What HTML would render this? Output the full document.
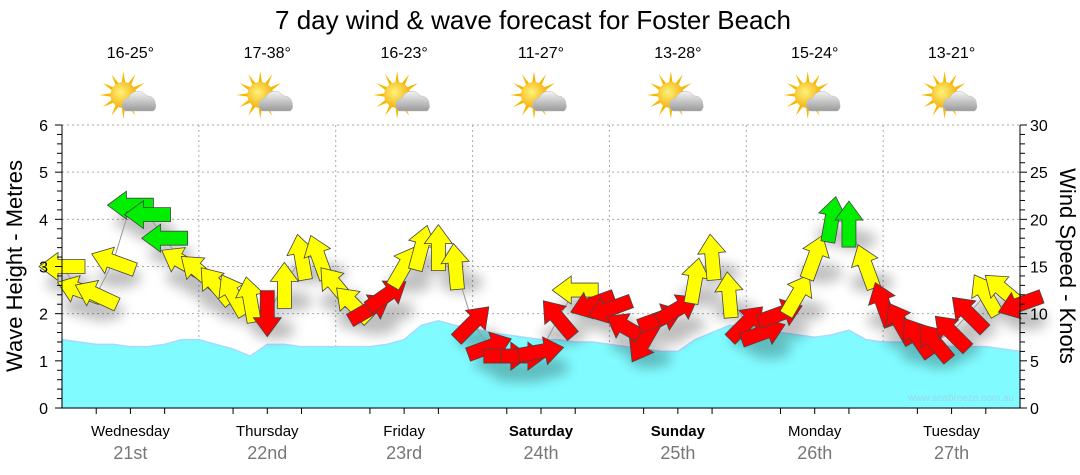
<!DOCTYPE html>
<html><head><meta charset="utf-8"><style>
body{margin:0;background:#fff;font-family:"Liberation Sans",sans-serif}
svg{display:block}
</style></head><body>
<svg id="chart" width="1080" height="475" xmlns="http://www.w3.org/2000/svg">
<defs>
<radialGradient id="sunG" cx="0.4" cy="0.4" r="0.7"><stop offset="0" stop-color="#fff27a"/><stop offset="1" stop-color="#f2a900"/></radialGradient>
<linearGradient id="cloudG" x1="0" y1="0" x2="0" y2="1"><stop offset="0" stop-color="#f4f4f4"/><stop offset="1" stop-color="#9a9a9a"/></linearGradient>
<filter id="sh" x="-50%" y="-50%" width="200%" height="200%"><feGaussianBlur stdDeviation="6"/></filter>
</defs>
<text x="533" y="29" text-anchor="middle" font-size="26" fill="#000">7 day wind &amp; wave forecast for Foster Beach</text>
<g id="grid"></g>
<g id="waves"></g>
<g id="shadows" filter="url(#sh)" opacity="0.25"></g>
<g id="wind"></g>
<g id="axes"></g>
<g id="days"></g>
<text x="1014" y="401" text-anchor="end" font-size="10" fill="#9fd7ea">www.seabreeze.com.au</text>
<text transform="translate(22,266) rotate(-90)" text-anchor="middle" font-size="22">Wave Height - Metres</text>
<text transform="translate(1060,266) rotate(90)" text-anchor="middle" font-size="22">Wind Speed - Knots</text>
</svg>
<script>
const dayNames=["Wednesday","Thursday","Friday","Saturday","Sunday","Monday","Tuesday"];
const dayDates=["21st","22nd","23rd","24th","25th","26th","27th"];
const temps=["16-25°","17-38°","16-23°","11-27°","13-28°","15-24°","13-21°"];
const windKn=[15,12.5,12,15.5,21.5,20.5,18,15.5, 14.5,13,12,11.5,10,13,16,16, 13,11,10.5,12,15,17,17,15, 9,6.5,5.5,5.5,6,9.5,12.5,11, 10.5,8.5,7,9.5,10.5,13.5,16,12, 9,8,10,12,16,20,19.5,15, 11,9,7.5,7,8,10,12,12.5,11];
const windDir=[180,-160,-155,-160,180,180,180,-150, -140,-130,-120,-100,90,-90,-100,-110, -130,-135,-30,-35,-60,-75,-90,-95, -45,-20,0,0,-10,-130,180,160, 160,-150,120,-20,-30,-80,-95,-95, -45,-20,-20,-60,-70,-80,-90,-110, -110,-120,-125,-130,-135,-135,-120,-140,160];
const windCol=["Y","Y","Y","Y","G","G","G","Y", "Y","Y","Y","Y","R","Y","Y","Y", "Y","Y","R","R","Y","Y","Y","Y", "R","R","R","R","R","R","Y","R", "R","R","R","R","R","Y","Y","Y", "R","R","R","Y","Y","G","G","Y", "R","R","R","R","R","R","Y","Y","R"];
const waveM=[1.45,1.4,1.35,1.35,1.3,1.3,1.35,1.45, 1.45,1.35,1.25,1.1,1.35,1.35,1.3,1.3, 1.3,1.3,1.3,1.35,1.45,1.75,1.85,1.75, 1.7,1.6,1.55,1.5,1.45,1.45,1.4,1.4, 1.35,1.3,1.25,1.2,1.2,1.45,1.6,1.75, 1.75,1.7,1.6,1.55,1.5,1.55,1.65,1.45, 1.4,1.4,1.35,1.35,1.3,1.3,1.3,1.25,1.2];
const NS="http://www.w3.org/2000/svg";
const X0=62,X1=1020,Y0=408,Y1=125;
const xAt=i=>X0+(X1-X0)*i/56;
const yM=m=>Y0-(Y0-Y1)*m/6;
const yK=k=>Y0-(Y0-Y1)*k/30;
function mk(tag,attrs,parent){const e=document.createElementNS(NS,tag);for(const k in attrs)e.setAttribute(k,attrs[k]);parent.appendChild(e);return e;}
const grid=document.getElementById('grid'),axes=document.getElementById('axes'),days=document.getElementById('days');
for(let m=1;m<=6;m++){const l=mk('line',{x1:X0,x2:X1,y1:yM(m),y2:yM(m),stroke:'#aaa','stroke-dasharray':'2,3'},grid);

}
for(let d=1;d<7;d++){const x=X0+(X1-X0)*d/7;const l=mk('line',{x1:x,x2:x,y1:Y1,y2:Y0,stroke:'#aaa','stroke-dasharray':'2,3'},grid);

}
let pts=`${X0},${Y0} `+waveM.map((m,i)=>`${xAt(i)},${yM(m)}`).join(' ')+` ${X1},${Y0}`;
const wv=mk('polygon',{points:pts,fill:'#80fbff',stroke:'#a9d8ff','stroke-width':1.5},document.getElementById('waves'));


const al=mk('line',{x1:X0,x2:X0,y1:Y1,y2:Y0,stroke:'#000'},axes);
const ar=mk('line',{x1:X1,x2:X1,y1:Y1,y2:Y0,stroke:'#000'},axes);
const ab=mk('line',{x1:X0,x2:X1,y1:Y0,y2:Y0,stroke:'#000'},axes);
for(let t=0;t<=30;t++){const y=Y0-(Y0-Y1)*t/30;const big=t%5==0;
mk('line',{x1:X0-(big?7:5),x2:X0,y1:y,y2:y,stroke:'#000'},axes);
mk('line',{x1:X1,x2:X1+(big?7:5),y1:y,y2:y,stroke:'#000'},axes);
if(big){const a=mk('text',{x:48,y:y+6,'text-anchor':'end','font-size':16},axes);a.textContent=t/5;

const b=mk('text',{x:1030,y:y+6,'font-size':16},axes);b.textContent=t;
}}
for(let i=0;i<=28;i++){const x=X0+(X1-X0)*i/28;mk('line',{x1:x,x2:x,y1:Y0,y2:Y0+(i%4==0?0:6),stroke:'#000'},axes);}
dayNames.forEach((n,d)=>{const cx=X0+(X1-X0)*(d+0.5)/7;const we=d==3||d==4;
const a=mk('text',{x:cx,y:436,'text-anchor':'middle','font-size':15,'font-weight':we?'bold':'normal'},days);a.textContent=n;

const b=mk('text',{x:cx,y:459,'text-anchor':'middle','font-size':18,fill:'#777'},days);b.textContent=dayDates[d];

const t=mk('text',{x:cx,y:58,'text-anchor':'middle','font-size':16},days);t.textContent=temps[d];

const g=mk('g',{transform:`translate(${cx-7},95)`},days);

for(let r=0;r<12;r++){const ang=r*30*Math.PI/180;mk('polygon',{points:`${Math.cos(ang-0.15)*12},${Math.sin(ang-0.15)*12} ${Math.cos(ang)*24},${Math.sin(ang)*24} ${Math.cos(ang+0.15)*12},${Math.sin(ang+0.15)*12}`,fill:'#f6b800'},g);}
mk('circle',{cx:0,cy:0,r:13,fill:'url(#sunG)'},g);
mk('path',{d:'M2,16 a7,7 0 0 1 3,-13 a10,10 0 0 1 18,-2 a8,8 0 0 1 9,8 a6,6 0 0 1 -2,7 z',fill:'url(#cloudG)',stroke:'#bbb','stroke-width':0.5},g);});
const wind=document.getElementById('wind'),sh=document.getElementById('shadows');
const cols={Y:'#ffff00',G:'#00ee00',R:'#ff0000'};
mk('polyline',{points:windKn.map((k,i)=>`${xAt(i)},${yK(k)}`).join(' '),fill:'none',stroke:'#999','stroke-width':1},wind);
windKn.forEach((k,i)=>{const x=xAt(i),y=yK(k);
mk('ellipse',{cx:x+6,cy:y+16,rx:22,ry:10,fill:'#000'},sh);
const p=mk('polygon',{points:'-23,-7 4,-7 4,-14 23,0 4,14 4,7 -23,7',fill:cols[windCol[i]],stroke:'#444','stroke-width':0.8,transform:`translate(${x},${y}) rotate(${windDir[i]})`},wind);

});
</script>
</body></html>
